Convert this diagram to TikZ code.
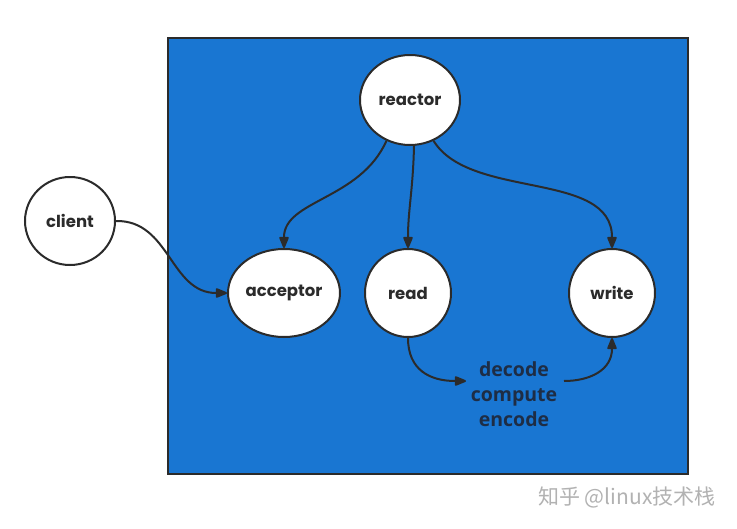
\documentclass[tikz,border=0pt]{standalone}
\usepackage{fontspec}
\setmainfont{Poppins}
\newfontfamily\labfont{Open Sans}
\newfontfamily\cjk{Noto Sans CJK SC}
\usetikzlibrary{arrows.meta,shapes.geometric}
\definecolor{bgblue}{HTML}{1976D2}
\definecolor{edge}{HTML}{2B2B2B}
\definecolor{navy}{HTML}{1E2D45}
\tikzset{
  proc/.style={ellipse, draw=edge, line width=2pt, fill=white, inner sep=0pt,
    font=\fontsize{16.5}{18}\selectfont\bfseries, text=edge},
  conn/.style={draw=edge, line width=2pt, arrows={-Triangle[length=13pt,width=10pt,round]}},
}
\begin{document}
\begin{tikzpicture}[x=1pt,y=-1pt]
\useasboundingbox (0,0) rectangle (737,528);
\fill[white] (0,0) rectangle (737,528);
\draw[fill=bgblue, draw=edge, line width=2pt] (168,38) rectangle (688,474);
\node[proc, minimum width=100pt, minimum height=90pt] (reactor) at (410,100) {reactor};
\node[proc, minimum width=90pt, minimum height=88pt] (client) at (70,221) {client};
\node[proc, minimum width=112pt, minimum height=88pt] (acceptor) at (284,293) {acceptor};
\node[proc, minimum width=86pt, minimum height=88pt] (read) at (408,293) {read};
\node[proc, minimum width=86pt, minimum height=88pt] (write) at (612,293) {write};
\node[font=\labfont\fontsize{19.5}{25}\selectfont\bfseries, text=navy, align=center] (work) at (514,394) {decode\\compute\\encode};
\coordinate (win) at (466,381);
\coordinate (wout) at (564,381);
\draw[conn] (client.east) .. controls (170,220) and (170,293) .. (acceptor.west);
\draw[conn] (reactor.240) .. controls (360,200) and (284,200) .. (acceptor.north);
\draw[conn] (reactor.275) .. controls (413,190) and (408,210) .. (read.north);
\draw[conn] (reactor.300) .. controls (470,200) and (612,170) .. (write.north);
\draw[conn] (read.south) .. controls (408,370) and (430,381) .. (win);
\draw[conn] (wout) .. controls (590,381) and (612,370) .. (write.south);
\node[font=\cjk\fontsize{21}{24}\selectfont, text=black!30, anchor=east] (mark) at (719,497) {知乎 @linux技术栈};
\end{tikzpicture}
\end{document}
